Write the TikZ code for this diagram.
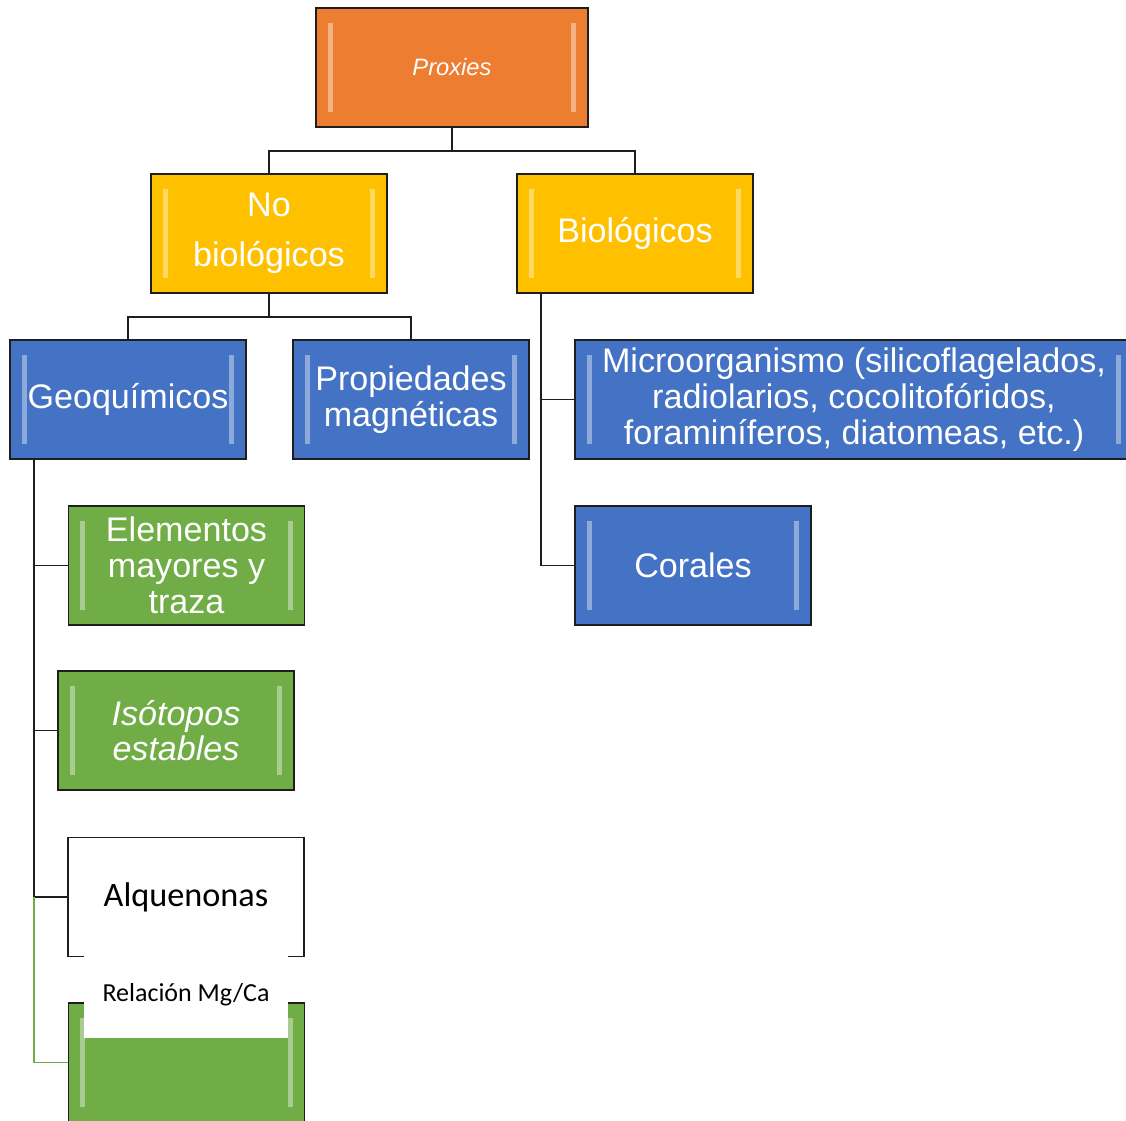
\documentclass[tikz,border=0pt]{standalone}
\usepackage{fontspec}
\setmainfont{Liberation Sans}
\newfontfamily\calibri{Carlito}
\usepackage{tikz}
\definecolor{naranja}{HTML}{ED7D31}
\definecolor{amarillo}{HTML}{FFC000}
\definecolor{azul}{HTML}{4472C4}
\definecolor{verde}{HTML}{70AD47}
\definecolor{borde}{HTML}{1E1E1E}

\begin{document}
\begin{tikzpicture}[x=0.02cm, y=-0.02cm,
	brillo/.style={path picture={
		\fill[white, opacity=.4] ([xshift=.23cm, yshift=.3cm]path picture bounding box.south west) rectangle ([xshift=.33cm, yshift=-.3cm]path picture bounding box.north west);
		\fill[white, opacity=.4] ([xshift=-.23cm, yshift=.3cm]path picture bounding box.south east) rectangle ([xshift=-.33cm, yshift=-.3cm]path picture bounding box.north east);}},
	caja/.style={draw=borde, line width=1.1pt, rectangle, minimum width=4.72cm, minimum height=2.38cm, text=white, align=center, inner sep=2pt, font=\fontsize{19.4}{20.6}\selectfont, brillo},
	conector/.style={draw=borde, line width=0.85pt}]
	\useasboundingbox (0,0) rectangle (1126,1120);
	\clip (0,0) rectangle (1126,1120);

	\node[caja, fill=naranja, minimum width=5.44cm, font=\fontsize{13.5}{16}\selectfont\itshape] (proxies)at(452, 67.5) {Proxies};
	\node[caja, fill=amarillo, font=\fontsize{19.4}{28.3}\selectfont] (nobio)at(269, 233.5) {No\\biológicos};
	\node[caja, fill=amarillo] (bio)at(635, 233.5) {Biológicos};

	\node[caja, fill=azul] (geo)at(128, 399.5) {Geoquímicos};
	\node[caja, fill=azul] (magn)at(411, 399.5) {Propiedades\\magnéticas};
	\node[caja, fill=azul, minimum width=11.16cm] (micro)at(854, 399.5) {Microorganismo (silicoflagelados,\\radiolarios, cocolitofóridos,\\foraminíferos, diatomeas, etc.)};
	\node[caja, fill=azul] (corales)at(693, 565.5) {Corales};

	\node[caja, fill=verde] (elem)at(186.5, 565.5) {Elementos\\mayores y\\traza};
	\node[caja, fill=verde, font=\fontsize{19.4}{20}\selectfont\itshape] (iso)at(176, 730.5) {Isótopos\\estables};
	\node[caja, fill=white, text=black, path picture={}, font=\fontsize{19.5}{22}\calibri] (alq)at(186, 897) {Alquenonas};
	\node[caja, fill=verde] (mgca)at(186.5, 1062.5) {};
	\node[fill=white, minimum width=4.08cm, minimum height=1.7cm, inner sep=0pt, font=\fontsize{14.8}{17}\calibri] (mgcatxt)at(186, 995) {Relación Mg/Ca};

	% conectores
	\draw[conector] (proxies.south) -- ++(0,23) -| (nobio.north);
	\draw[conector] (proxies.south) -- ++(0,23) -| (bio.north);
	\draw[conector] (nobio.south) -- ++(0,23) -| (geo.north);
	\draw[conector] (nobio.south) -- ++(0,23) -| (magn.north);

	\coordinate (biotronco) at ([xshift=.5cm]bio.south west);
	\draw[conector] (biotronco) |- (micro.west);
	\draw[conector] (biotronco) |- (corales.west);

	\coordinate (geotronco) at ([xshift=.5cm]geo.south west);
	\draw[conector] (geotronco) |- (elem.west);
	\draw[conector] (geotronco) |- (iso.west);
	\draw[conector] (geotronco) |- (alq.west);
	\draw[conector, draw=verde] (geotronco |- alq.west) |- (mgca.west);
\end{tikzpicture}
\end{document}
